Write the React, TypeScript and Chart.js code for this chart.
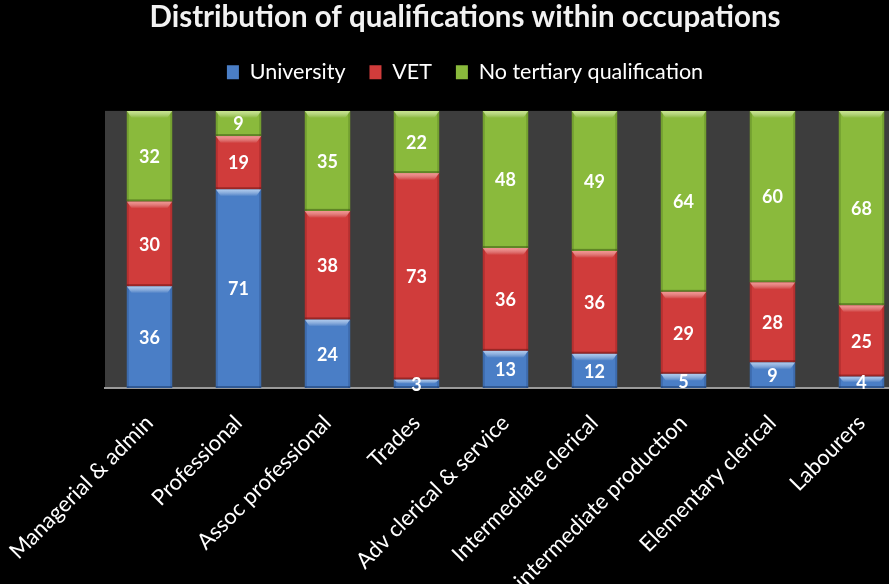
import React, { useEffect, useRef } from "react";
import { Chart, registerables } from "chart.js";
Chart.register(...registerables);

const categories = [
  "Managerial & admin",
  "Professional",
  "Assoc professional",
  "Trades",
  "Adv clerical & service",
  "Intermediate clerical",
  "intermediate production",
  "Elementary clerical",
  "Labourers",
];
const university = [36, 71, 24, 3, 13, 12, 5, 9, 4];
const vet = [30, 19, 38, 73, 36, 36, 29, 28, 25];
const noTertiary = [32, 9, 35, 22, 48, 49, 64, 60, 68];
const seriesNames = ["University", "VET", "No tertiary qualification"];

const FONT = "Lato, 'Open Sans', sans-serif";

export default function App() {
  const ref = useRef<HTMLCanvasElement>(null);
  useEffect(() => {
    if (!ref.current) return;
    const raw = [university, vet, noTertiary];
    const totals = categories.map((_, i) => university[i] + vet[i] + noTertiary[i]);
    const share = (arr: number[]) => arr.map((v, i) => (v / totals[i]) * 100);
    const colors = ["#4a7ec6", "#d03c3b", "#8aba3c"];
    const lights = ["rgba(190,215,245,0.85)", "rgba(250,170,165,0.8)", "rgba(215,240,160,0.8)"];
    const darks = ["rgba(30,60,110,0.55)", "rgba(110,20,20,0.55)", "rgba(60,90,20,0.55)"];

    const bgPlugin = {
      id: "bg",
      beforeDraw(chart: any) {
        const { ctx, chartArea } = chart;
        ctx.save();
        ctx.fillStyle = "#000000";
        ctx.fillRect(0, 0, chart.width, chart.height);
        ctx.fillStyle = "#3d3d3d";
        ctx.fillRect(chartArea.left, chartArea.top, chartArea.right - chartArea.left, chartArea.bottom - chartArea.top);
        ctx.restore();
      },
    };
    const spacerPlugin = {
      id: "legendSpacer",
      afterInit(chart: any) {
        const lg = chart.legend;
        if (!lg) return;
        const orig = lg.fit;
        lg.fit = function () {
          orig.call(this);
          this.height += 18;
        };
      },
    };
    const bevelAndLabels = {
      id: "vals",
      afterDatasetsDraw(chart: any) {
        const { ctx } = chart;
        ctx.save();
        chart.data.datasets.forEach((ds: any, di: number) => {
          const meta = chart.getDatasetMeta(di);
          meta.data.forEach((el: any) => {
            const left = el.x - el.width / 2;
            const right = el.x + el.width / 2;
            const top = Math.min(el.y, el.base);
            const bottom = Math.max(el.y, el.base);
            const h = bottom - top;
            ctx.fillStyle = darks[di];
            ctx.globalAlpha = 0.5;
            ctx.fillRect(left, top, 2, h);
            ctx.fillRect(right - 2, top, 2, h);
            ctx.globalAlpha = 1;
            ctx.fillRect(left, bottom - 2, el.width, 2);
            const bh = Math.min(7, h / 2);
            const g = ctx.createLinearGradient(0, top, 0, top + bh);
            g.addColorStop(0, lights[di]);
            g.addColorStop(1, "rgba(255,255,255,0)");
            ctx.fillStyle = g;
            ctx.beginPath();
            ctx.moveTo(left, top);
            ctx.lineTo(right, top);
            ctx.lineTo(right - 5, top + bh);
            ctx.lineTo(left + 5, top + bh);
            ctx.closePath();
            ctx.fill();
          });
        });
        ctx.font = `bold 18px ${FONT}`;
        ctx.fillStyle = "#ffffff";
        ctx.textAlign = "center";
        ctx.textBaseline = "middle";
        chart.data.datasets.forEach((ds: any, di: number) => {
          const meta = chart.getDatasetMeta(di);
          meta.data.forEach((el: any, i: number) => {
            const cy = (el.y + el.base) / 2;
            ctx.fillText(String(raw[di][i]), el.x, cy + 1);
          });
        });
        ctx.restore();
      },
    };

    const chart = new Chart(ref.current, {
      type: "bar",
      data: {
        labels: categories,
        datasets: [university, vet, noTertiary].map((arr, k) => ({
          label: seriesNames[k],
          data: share(arr),
          backgroundColor: colors[k],
          borderWidth: 0,
          barPercentage: 0.51,
          categoryPercentage: 1,
        })),
      },
      options: {
        animation: false,
        responsive: false,
        devicePixelRatio: 1,
        layout: { padding: { left: 24, right: 24, top: 0, bottom: 0 } },
        plugins: {
          title: {
            display: true,
            text: "Distribution of qualifications within occupations",
            color: "#f2f2f2",
            font: { family: FONT, size: 29.5, weight: "bold" },
            padding: { top: 0, bottom: 2 },
          },
          legend: {
            position: "top",
            labels: {
              color: "#ffffff",
              font: { family: FONT, size: 21.5 },
              boxWidth: 12,
              boxHeight: 14,
              padding: 24,
            },
          },
          tooltip: { enabled: false },
        },
        scales: {
          x: {
            stacked: true,
            grid: { display: false },
            border: { color: "#9a9a9a", width: 2 },
            ticks: {
              color: "#ffffff",
              font: { family: FONT, size: 22 },
              maxRotation: 45,
              minRotation: 45,
              padding: 14,
            },
            afterFit(scale: any) {
              scale.height = 196;
              scale.paddingLeft = 0;
              scale.paddingRight = 0;
            },
          },
          y: {
            stacked: true,
            display: true,
            min: 0,
            max: 100,
            grid: { display: false, drawTicks: false },
            border: { display: false },
            ticks: { display: false },
            afterFit(scale: any) {
              scale.width = 81;
            },
          },
        },
      },
      plugins: [bgPlugin, spacerPlugin, bevelAndLabels],
    });
    return () => chart.destroy();
  }, []);
  return (
    <div style={{ position: "fixed", left: 0, top: 0, width: 889, height: 584, overflow: "hidden", background: "#000" }}>
      <canvas ref={ref} width={930} height={584} style={{ display: "block", width: 930, height: 584 }} />
    </div>
  );
}
